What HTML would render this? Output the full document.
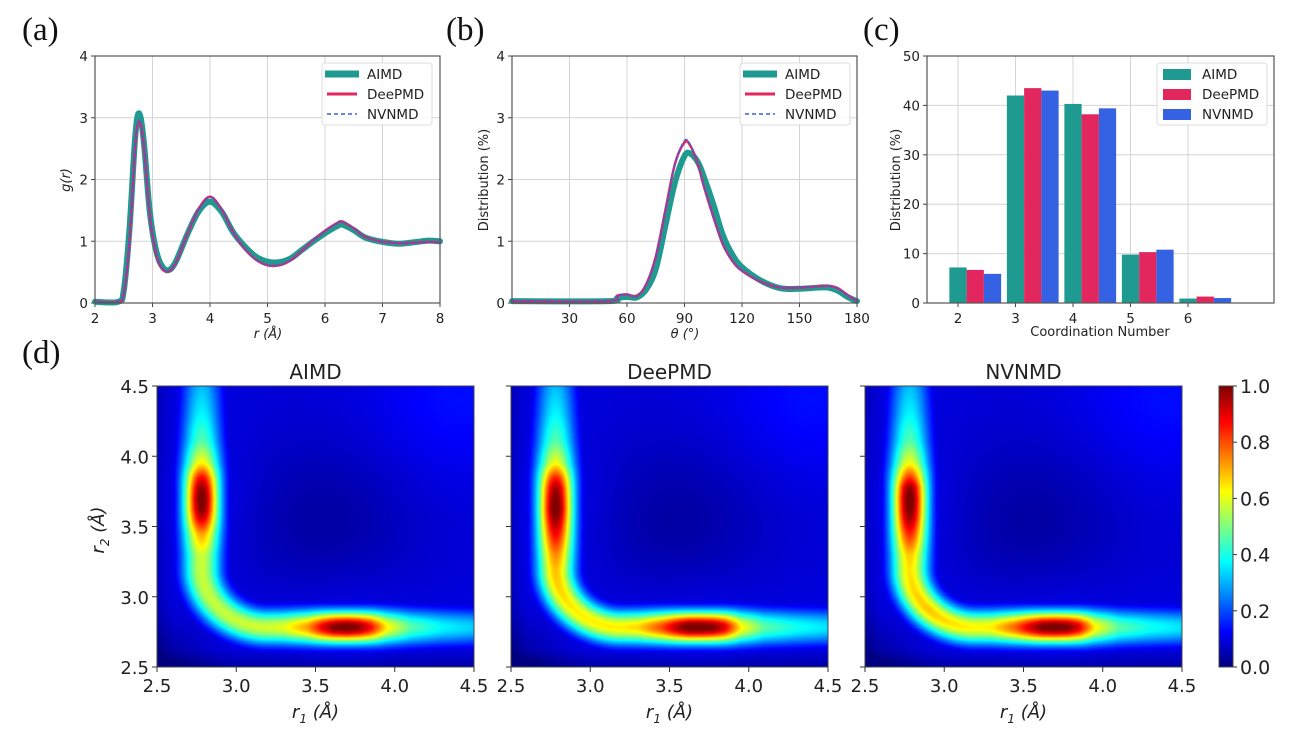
<!DOCTYPE html>
<html><head><meta charset="utf-8">
<style>
html,body{margin:0;padding:0;background:#fff;}
#wrap{position:relative;width:1295px;height:732px;overflow:hidden;font-family:"DejaVu Sans","Liberation Sans",sans-serif;}
canvas{position:absolute;}
svg{position:absolute;left:0;top:0;}
</style></head>
<body>
<div id="wrap">
<canvas id="hm0" width="317" height="281" style="left:157px;top:386px"></canvas>
<canvas id="hm1" width="317" height="281" style="left:511px;top:386px"></canvas>
<canvas id="hm2" width="317" height="281" style="left:865px;top:386px"></canvas>
<canvas id="cbar" width="14" height="281" style="left:1219px;top:386px"></canvas>
<svg id="svg" width="1295" height="732"></svg>
</div>
<script>
// ---------- Panel (a) RDF data ----------
const rdfR = [2,2.4,2.5,2.6,2.7,2.77,2.85,2.95,3.05,3.15,3.27,3.4,3.6,3.8,4.0,4.2,4.4,4.6,4.8,5.0,5.2,5.4,5.6,5.8,6.0,6.2,6.3,6.5,6.7,7.0,7.3,7.6,7.8,8];
const rdfAIMD = [0.02,0.02,0.2,1.2,2.7,3.07,2.6,1.5,0.9,0.62,0.53,0.66,1.1,1.48,1.64,1.48,1.15,0.92,0.75,0.67,0.66,0.72,0.86,1.0,1.13,1.24,1.27,1.18,1.06,0.99,0.96,0.99,1.01,1.0];
const rdfDeePMD = [0.02,0.02,0.15,1.0,2.55,2.95,2.55,1.45,0.85,0.58,0.51,0.64,1.1,1.52,1.72,1.52,1.15,0.88,0.7,0.61,0.61,0.69,0.85,1.02,1.17,1.29,1.32,1.21,1.07,0.99,0.97,0.98,0.99,0.98];
const rdfNVNMD = [0.02,0.02,0.15,1.0,2.55,2.96,2.56,1.46,0.86,0.59,0.51,0.64,1.1,1.51,1.71,1.52,1.15,0.88,0.7,0.61,0.61,0.69,0.85,1.02,1.17,1.29,1.32,1.21,1.07,0.99,0.97,0.98,0.99,0.98];
const rdfXTicks = [2,3,4,5,6,7,8];
const rdfYTicks = [0,1,2,3,4];
// ---------- Panel (b) angular data ----------
const angT = [0,50,55,60,65,70,75,80,85,90,93,97,100,105,110,115,120,130,140,150,160,165,170,175,180];
const angAIMD = [0.03,0.03,0.08,0.1,0.09,0.22,0.55,1.25,1.95,2.38,2.42,2.28,2.05,1.6,1.1,0.78,0.58,0.36,0.24,0.23,0.25,0.25,0.2,0.1,0.03];
const angDeePMD = [0.03,0.03,0.12,0.14,0.11,0.3,0.75,1.5,2.25,2.6,2.55,2.25,1.9,1.4,0.95,0.68,0.52,0.34,0.25,0.25,0.27,0.28,0.24,0.13,0.03];
const angNVNMD = [0.03,0.03,0.12,0.14,0.11,0.3,0.75,1.5,2.25,2.63,2.57,2.26,1.9,1.4,0.95,0.68,0.52,0.34,0.25,0.25,0.27,0.28,0.24,0.13,0.03];
const angXTicks = [30,60,90,120,150,180];
const angYTicks = [0,1,2,3,4];
// ---------- Panel (c) coordination data ----------
const cnCats = [2,3,4,5,6];
const cnAIMD = [7.2,42.0,40.3,9.8,0.9];
const cnDeePMD = [6.7,43.5,38.2,10.3,1.3];
const cnNVNMD = [5.9,43.0,39.4,10.8,1.0];
const cnYTicks = [0,10,20,30,40,50];
// ---------- Panel (d) heatmap ridge amplitude profiles ----------
const armPos = [2.95,3.1,3.3,3.45,3.55,3.62,3.7,3.78,3.85,3.95,4.1,4.3,4.5];
const armAIMDv = [0.55,0.55,0.56,0.7,0.88,0.97,1.0,0.95,0.85,0.62,0.45,0.36,0.3];
const armAIMDh = [0.55,0.55,0.58,0.7,0.88,0.97,1.0,0.95,0.85,0.62,0.45,0.36,0.32];
const armDeePv = [0.62,0.62,0.72,0.86,0.95,1.0,0.98,0.93,0.82,0.6,0.45,0.36,0.3];
const armDeePh = [0.62,0.6,0.64,0.78,0.92,1.0,1.0,0.97,0.88,0.62,0.45,0.38,0.34];
const armNVv = [0.66,0.6,0.66,0.82,0.93,0.98,1.0,0.95,0.8,0.6,0.45,0.36,0.3];
const armNVh = [0.66,0.6,0.62,0.76,0.9,0.98,1.0,0.97,0.88,0.62,0.45,0.38,0.34];
const hmTicks = [2.5,3.0,3.5,4.0,4.5];
const cbTicks = [0.0,0.2,0.4,0.6,0.8,1.0];
const hmTitles = ["AIMD","DeePMD","NVNMD"];

const NS="http://www.w3.org/2000/svg";
const svg=document.getElementById('svg');
function mk(tag,attrs,parent){const e=document.createElementNS(NS,tag);for(const k in attrs)e.setAttribute(k,attrs[k]);(parent||svg).appendChild(e);return e;}
function txt(s,x,y,size,anchor,extra,parent){const t=mk('text',Object.assign({x:x,y:y,'font-size':size,'text-anchor':anchor||'middle',fill:'#222'},extra||{}),parent);t.textContent=s;return t;}
function lin(d0,d1,p0,p1){return v=>p0+(v-d0)/(d1-d0)*(p1-p0);}
function smoothPath(pts){let d='M'+pts[0][0]+','+pts[0][1];for(let i=0;i<pts.length-1;i++){const p0=pts[i-1]||pts[i],p1=pts[i],p2=pts[i+1],p3=pts[i+2]||p2;const c1=[p1[0]+(p2[0]-p0[0])/6,p1[1]+(p2[1]-p0[1])/6],c2=[p2[0]-(p3[0]-p1[0])/6,p2[1]-(p3[1]-p1[1])/6];d+=' C'+c1[0]+','+c1[1]+' '+c2[0]+','+c2[1]+' '+p2[0]+','+p2[1];}return d;}

[["(a)",22,40],["(b)",446,40],["(c)",863,40],["(d)",22,363]].forEach(l=>{const t=txt(l[0],l[1],l[2],33,'start',{'font-family':'"Liberation Serif",serif',fill:'#111'});

});

function frame(x0,x1,y0,y1,xs,ys,xt,yt,xfmt,yfmt,name){
  const g=mk('g',{});
  
  
  xt.forEach(v=>{mk('line',{x1:xs(v),x2:xs(v),y1:y0,y2:y1,stroke:'#d4d4d4','stroke-width':1},g);mk('line',{x1:xs(v),x2:xs(v),y1:y1,y2:y1+4,stroke:'#444'},g);
    const t=txt(xfmt(v),xs(v),y1+20,13.5,'middle',{},g);});
  yt.forEach(v=>{mk('line',{x1:x0,x2:x1,y1:ys(v),y2:ys(v),stroke:'#d4d4d4','stroke-width':1},g);mk('line',{x1:x0-4,x2:x0,y1:ys(v),y2:ys(v),stroke:'#444'},g);
    const t=txt(yfmt(v),x0-7,ys(v)+5,13.5,'end',{},g);});
  return g;
}
function border(x0,x1,y0,y1){mk('rect',{x:x0,y:y0,width:x1-x0,height:y1-y0,fill:'none',stroke:'#555','stroke-width':1.2});}
function legend(x,y,w,kind){
  const g=mk('g',{});
  
  
  mk('rect',{x:x,y:y,width:w,height:62,fill:'#fff','fill-opacity':0.85,stroke:'#ddd',rx:3},g);
  const names=['AIMD','DeePMD','NVNMD'],cols=['#1f9a90','#e2265e','#3561e3'];
  names.forEach((n,i)=>{const yy=y+11+i*20;
    if(kind==='bar'){mk('rect',{x:x+6,y:yy-5,width:28,height:11,fill:cols[i]},g);}
    else if(i===0) mk('line',{x1:x+3,x2:x+37,y1:yy,y2:yy,stroke:cols[0],'stroke-width':7},g);
    else if(i===1) mk('line',{x1:x+5,x2:x+35,y1:yy,y2:yy,stroke:cols[1],'stroke-width':3},g);
    else mk('line',{x1:x+5,x2:x+35,y1:yy,y2:yy,stroke:cols[2],'stroke-width':1.5,'stroke-dasharray':'4,3'},g);
    const t=txt(n,x+45,yy+5,13.5,'start',{},g);});
}
function lineSeries(X,Y,xs,ys,style,name){const p=mk('path',Object.assign({d:smoothPath(X.map((x,i)=>[xs(x),ys(Y[i])])),fill:'none','stroke-linejoin':'round','stroke-linecap':'round'},style));
  }

{const x0=95,x1=440,y0=56,y1=303;const xs=lin(2,8,x0,x1),ys=lin(0,4,y1,y0);
 frame(x0,x1,y0,y1,xs,ys,rdfXTicks,rdfYTicks,v=>String(v),v=>String(v),'rdf');
 lineSeries(rdfR,rdfAIMD,xs,ys,{stroke:'#1f9a90','stroke-width':6},'rdf-aimd-line');
 lineSeries(rdfR,rdfDeePMD,xs,ys,{stroke:'#e2265e','stroke-width':2.5},'rdf-deepmd-line');
 lineSeries(rdfR,rdfNVNMD,xs,ys,{stroke:'#3561e3','stroke-width':1.3,'stroke-dasharray':'4,3'},'rdf-nvnmd-line');
 border(x0,x1,y0,y1);legend(322,63,110,'line');
 const yl=txt('g(r)',0,0,13,'middle',{'font-style':'italic',transform:'translate(70,180) rotate(-90)'});
 const xl=txt('r  (Å)',268,338,13,'middle',{'font-style':'italic'});}
{const x0=512,x1=857,y0=56,y1=303;const xs=lin(0,180,x0,x1),ys=lin(0,4,y1,y0);
 frame(x0,x1,y0,y1,xs,ys,angXTicks,angYTicks,v=>String(v),v=>String(v),'angle');
 lineSeries(angT,angAIMD,xs,ys,{stroke:'#1f9a90','stroke-width':6},'angle-aimd-line');
 lineSeries(angT,angDeePMD,xs,ys,{stroke:'#e2265e','stroke-width':2.5},'angle-deepmd-line');
 lineSeries(angT,angNVNMD,xs,ys,{stroke:'#3561e3','stroke-width':1.3,'stroke-dasharray':'4,3'},'angle-nvnmd-line');
 border(x0,x1,y0,y1);legend(740,63,110,'line');
 const yl=txt('Distribution (%)',0,0,13,'middle',{transform:'translate(488,180) rotate(-90)'});
 const xl=txt('θ   (°)',685,338,13,'middle',{'font-style':'italic'});}
{const x0=927,x1=1274,y0=56,y1=303;const xs=lin(2,3,958,1015.5),ys=lin(0,50,y1,y0);
 frame(x0,x1,y0,y1,xs,ys,cnCats,cnYTicks,v=>String(v),v=>String(v),'coord');
 const bw=0.3;const series=[[cnAIMD,'#1f9a90','aimd'],[cnDeePMD,'#e2265e','deepmd'],[cnNVNMD,'#3561e3','nvnmd']];
 series.forEach((s,j)=>{cnCats.forEach((c,i)=>{const xa=xs(c-bw/2+j*bw),xb=xs(c+bw/2+j*bw);
   const r=mk('rect',{x:xa,y:ys(s[0][i]),width:xb-xa,height:ys(0)-ys(s[0][i]),fill:s[1]});
   });});
 border(x0,x1,y0,y1);legend(1157,63,110,'bar');
 const yl=txt('Distribution (%)',0,0,13,'middle',{transform:'translate(900,180) rotate(-90)'});
 const xl=txt('Coordination Number',1100,336,13,'middle',{});}

function jet(v){v=Math.max(0,Math.min(1,v));
  const r=Math.max(0,Math.min(1,1.5-Math.abs(4*v-3))),g=Math.max(0,Math.min(1,1.5-Math.abs(4*v-2))),b=Math.max(0,Math.min(1,1.5-Math.abs(4*v-1)));return [r*255,g*255,b*255];}
function interp(P,V,s){if(s<=P[0])return V[0];if(s>=P[P.length-1])return V[V.length-1];for(let i=0;i<P.length-1;i++){if(s<=P[i+1]){const t=(s-P[i])/(P[i+1]-P[i]);return V[i]+t*(V[i+1]-V[i]);}}}
const armsList=[[armAIMDv,armAIMDh],[armDeePv,armDeePh],[armNVv,armNVh]];
armsList.forEach((arms,k)=>{
  const cv=document.getElementById('hm'+k),ctx=cv.getContext('2d');const W=cv.width,H=cv.height;const img=ctx.createImageData(W,H);
  const lineX=2.78,lineY=2.78,R=0.42,cx=lineX+R,cy=lineY+R;
  const aV=interp(armPos,arms[0],cy),aH=interp(armPos,arms[1],cx),aC=(arms[0][0]+arms[1][0])/2;
  for(let py=0;py<H;py++){const r2=4.5-py/(H-1)*2;for(let px=0;px<W;px++){const r1=2.5+px/(W-1)*2;
    let d,amp;
    if(r2>=cy&&r2>=r1){d=Math.abs(r1-lineX);amp=interp(armPos,arms[0],r2);}
    else if(r1>=cx&&r1>r2){d=Math.abs(r2-lineY);amp=interp(armPos,arms[1],r1);}
    else if(r1<cx&&r2<cy){const dx=r1-cx,dy=r2-cy;d=Math.abs(Math.sqrt(dx*dx+dy*dy)-R);
      const t=Math.atan2(-dy,-dx)/(Math.PI/2);
      const tt=Math.max(0,Math.min(1,t));
      amp=tt<0.5?aV+(aC-aV)*(tt/0.5):aC+(aH-aC)*((tt-0.5)/0.5);}
    else{d=1;amp=0;}
    const sig=0.08+0.025*(1-amp);
    let bg=0.085-0.06*Math.exp(-((r1-2.5)**2+(r2-2.5)**2)/0.1)-0.05*Math.exp(-((r1-3.55)**2+(r2-3.55)**2)/0.3)+0.05*Math.exp(-((r1-4.4)**2+(r2-4.4)**2)/0.3);
    if(r1<2.6)bg-=0.03*(2.6-r1)/0.1; if(r2<2.62)bg-=0.05*(2.62-r2)/0.12;
    const v=Math.max(bg,amp*Math.exp(-d*d/(2*sig*sig)))+0.03*amp*Math.exp(-d*d/0.12);
    const c=jet(v);const o=(py*W+px)*4;img.data[o]=c[0];img.data[o+1]=c[1];img.data[o+2]=c[2];img.data[o+3]=255;}}
  ctx.putImageData(img,0,0);
});
{const cv=document.getElementById('cbar'),ctx=cv.getContext('2d');for(let y=0;y<cv.height;y++){const c=jet(1-y/(cv.height-1));ctx.fillStyle='rgb('+c.map(Math.round).join(',')+')';ctx.fillRect(0,y,cv.width,1);}}
const hmX=[157,511,865];
hmX.forEach((x0,k)=>{const x1=x0+317,y0=386,y1=667;const xs=lin(2.5,4.5,x0,x1),ys=lin(2.5,4.5,y1,y0);
  mk('rect',{x:x0,y:y0,width:317,height:281,fill:'none',stroke:'#444','stroke-width':1});
  hmTicks.forEach(v=>{mk('line',{x1:xs(v),x2:xs(v),y1:y1,y2:y1+5,stroke:'#333'});
    const t=txt(v.toFixed(1),xs(v),y1+25,18,'middle');
    mk('line',{x1:x0-5,x2:x0,y1:ys(v),y2:ys(v),stroke:'#333'});
    if(k===0){const t2=txt(v.toFixed(1),x0-8,ys(v)+7,18,'end');}});
  const ti=txt(hmTitles[k],(x0+x1)/2,379,20,'middle');
  const xl=mk('text',{x:(x0+x1)/2,y:718,'font-size':18,'text-anchor':'middle',fill:'#222','font-style':'italic'});
  xl.innerHTML='r<tspan font-size="12" dy="5">1</tspan><tspan dy="-5">   (Å)</tspan>';xl.setAttribute('xml:space','preserve');
  
});
{const yl=mk('text',{'font-size':18,'text-anchor':'middle',fill:'#222','font-style':'italic',transform:'translate(104,530) rotate(-90)'});
 yl.innerHTML='r<tspan font-size="12" dy="5">2</tspan><tspan dy="-5">  (Å)</tspan>';
 
 }
{const ys=lin(0,1,667,386);mk('rect',{x:1219,y:386,width:14,height:281,fill:'none',stroke:'#444'});
 cbTicks.forEach(v=>{mk('line',{x1:1233,x2:1237,y1:ys(v),y2:ys(v),stroke:'#333'});
  const t=txt(v.toFixed(1),1240,ys(v)+7,19,'start');});}
</script>
</body></html>
